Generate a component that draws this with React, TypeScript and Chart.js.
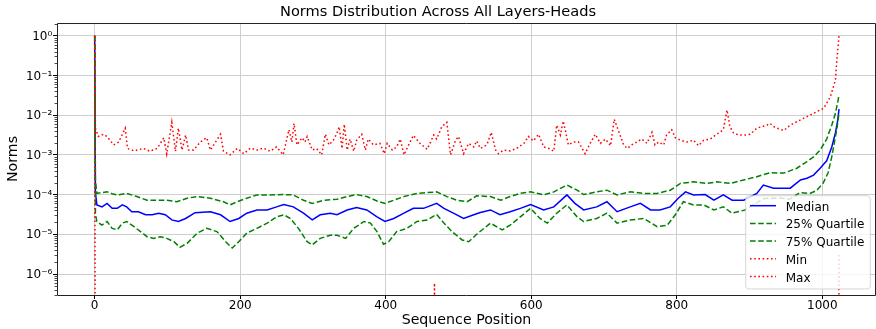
import React, { useEffect, useRef } from 'react';
import { Chart, registerables } from 'chart.js';

Chart.register(...registerables);

const FONT = "'DejaVu Sans', sans-serif";

const TITLE = 'Norms Distribution Across All Layers-Heads';
const X_LABEL = 'Sequence Position';
const Y_LABEL = 'Norms';
const X_TICKS = [0, 200, 400, 600, 800, 1000];
const Y_TICKS = [1e-6, 1e-5, 1e-4, 1e-3, 1e-2, 1e-1, 1];
const SERIES_NAMES = ['Median', '25% Quartile', '75% Quartile', 'Min', 'Max'];

// Median
const MEDIAN_POS = [0, 1, 3, 10, 17, 24, 31, 38, 44, 51, 60, 70, 79, 88, 97, 106, 115, 125, 138, 159, 173, 186, 198, 209, 223, 237, 250, 260, 273, 287, 299, 310, 324, 333, 347, 360, 374, 388, 399, 411, 425, 438, 452, 470, 480, 493, 507, 521, 530, 544, 557, 571, 585, 599, 617, 631, 649, 660, 672, 690, 704, 718, 736, 750, 764, 777, 791, 802, 812, 823, 839, 851, 864, 876, 892, 910, 919, 933, 947, 956, 970, 979, 988, 997, 1006, 1013, 1018, 1021, 1023];
const MEDIAN = [1, 1.12e-4, 5.5e-5, 4.9e-5, 6.0e-5, 4.5e-5, 4.5e-5, 5.5e-5, 4.9e-5, 3.7e-5, 3.7e-5, 3.1e-5, 3.1e-5, 3.4e-5, 3.1e-5, 2.3e-5, 2.1e-5, 2.5e-5, 3.5e-5, 3.7e-5, 3.1e-5, 2.1e-5, 2.5e-5, 3.4e-5, 4.1e-5, 4.1e-5, 4.9e-5, 5.6e-5, 4.9e-5, 3.4e-5, 2.3e-5, 3.1e-5, 3.4e-5, 3.1e-5, 4.1e-5, 4.7e-5, 4.1e-5, 2.75e-5, 2.1e-5, 2.5e-5, 3.4e-5, 4.5e-5, 4.5e-5, 6.0e-5, 4.5e-5, 3.4e-5, 2.5e-5, 3.1e-5, 3.55e-5, 4.1e-5, 3.1e-5, 3.7e-5, 4.5e-5, 5.6e-5, 4.1e-5, 4.9e-5, 9.8e-5, 6.0e-5, 4.1e-5, 4.9e-5, 6.6e-5, 3.7e-5, 4.9e-5, 6.0e-5, 4.1e-5, 4.1e-5, 4.9e-5, 8.1e-5, 1.17e-4, 9.8e-5, 1.0e-4, 7.2e-5, 9.8e-5, 7.2e-5, 7.2e-5, 1.07e-4, 1.74e-4, 1.45e-4, 1.45e-4, 1.45e-4, 2.34e-4, 2.57e-4, 3.1e-4, 4.6e-4, 7.1e-4, 1.58e-3, 3.55e-3, 7.1e-3, 1.41e-2];

// 25% quartile (lower green)
const Q25_POS = [0, 1, 3, 10, 17, 24, 31, 38, 44, 54, 63, 72, 81, 90, 99, 109, 117, 127, 136, 141, 154, 168, 180, 189, 198, 209, 223, 237, 250, 260, 269, 280, 292, 299, 310, 324, 333, 345, 356, 370, 379, 388, 397, 404, 415, 429, 443, 457, 470, 480, 491, 505, 514, 525, 544, 560, 571, 585, 599, 612, 622, 635, 649, 663, 672, 690, 704, 718, 736, 755, 773, 787, 798, 809, 823, 837, 851, 864, 876, 894, 910, 919, 940, 955, 969, 983, 992, 1001, 1008, 1013, 1017, 1020, 1023];
const Q25 = [1, 3.16e-5, 2.1e-5, 1.7e-5, 2.1e-5, 1.41e-5, 1.29e-5, 1.91e-5, 2.1e-5, 1.55e-5, 1.17e-5, 8.7e-6, 7.9e-6, 8.7e-6, 7.9e-6, 6.5e-6, 4.7e-6, 5.9e-6, 8.7e-6, 1.07e-5, 1.41e-5, 1.17e-5, 6.5e-6, 4.5e-6, 6.5e-6, 1.07e-5, 1.41e-5, 1.91e-5, 2.75e-5, 3.1e-5, 2.5e-5, 1.41e-5, 6.5e-6, 5.4e-6, 7.9e-6, 9.5e-6, 9.5e-6, 7.9e-6, 1.41e-5, 2.1e-5, 1.91e-5, 1.17e-5, 5.6e-6, 6.5e-6, 1.17e-5, 1.41e-5, 2.1e-5, 2.3e-5, 3.16e-5, 1.91e-5, 1.17e-5, 7.2e-6, 6.5e-6, 1.0e-5, 1.91e-5, 1.29e-5, 1.7e-5, 2.75e-5, 4.5e-5, 2.5e-5, 1.91e-5, 3.4e-5, 5.5e-5, 2.75e-5, 2.1e-5, 2.5e-5, 3.4e-5, 1.91e-5, 2.3e-5, 2.5e-5, 1.55e-5, 1.7e-5, 3.1e-5, 6.6e-5, 5.5e-5, 5.5e-5, 4.1e-5, 4.9e-5, 3.4e-5, 4.1e-5, 6.3e-5, 7.9e-5, 8.3e-5, 7.6e-5, 1.12e-4, 1.07e-4, 1.26e-4, 1.91e-4, 3.55e-4, 8.9e-4, 2.24e-3, 4.5e-3, 1.12e-2];

// 75% quartile (upper green)
const Q75_POS = [0, 1, 3, 10, 17, 24, 31, 44, 58, 72, 86, 99, 113, 127, 141, 159, 177, 186, 196, 209, 223, 241, 260, 273, 287, 299, 315, 333, 347, 360, 374, 388, 399, 411, 425, 443, 457, 470, 484, 498, 512, 525, 544, 558, 571, 585, 599, 617, 631, 649, 663, 672, 690, 704, 718, 736, 755, 773, 791, 805, 823, 842, 855, 874, 892, 910, 928, 947, 965, 979, 988, 997, 1006, 1013, 1018, 1021, 1023];
const Q75 = [1, 2.24e-4, 1.07e-4, 1.12e-4, 1.17e-4, 1.05e-4, 9.8e-5, 1.07e-4, 8.9e-5, 7.2e-5, 7.2e-5, 7.2e-5, 6.6e-5, 8.1e-5, 8.9e-5, 8.1e-5, 6.6e-5, 5.5e-5, 6.6e-5, 8.1e-5, 9.8e-5, 9.8e-5, 1.0e-4, 9.8e-5, 7.2e-5, 6.0e-5, 7.2e-5, 7.6e-5, 8.9e-5, 1.0e-4, 8.9e-5, 6.9e-5, 6.0e-5, 7.2e-5, 8.9e-5, 1.07e-4, 1.12e-4, 1.17e-4, 8.9e-5, 7.2e-5, 6.6e-5, 9.3e-5, 8.9e-5, 7.2e-5, 8.9e-5, 1.07e-4, 1.17e-4, 9.8e-5, 1.17e-4, 1.74e-4, 1.29e-4, 1.0e-4, 1.17e-4, 1.29e-4, 9.8e-5, 1.17e-4, 1.07e-4, 1.07e-4, 1.29e-4, 1.91e-4, 2.09e-4, 1.91e-4, 2.09e-4, 1.91e-4, 2.34e-4, 2.82e-4, 3.55e-4, 3.47e-4, 4.6e-4, 6.8e-4, 8.9e-4, 1.32e-3, 2.5e-3, 5.6e-3, 1.12e-2, 2.0e-2, 3.24e-2];

// Min (zero almost everywhere)
const MIN_POS = [0, 1, 466, 467, 468, 1022, 1023];
const MIN = [1, 0, 0, 5.9e-7, 0, 0, 3e-6];

// Max (upper red)
const MAX_POS = [0, 1, 5, 12, 17, 26, 33, 42, 45, 54, 67, 76, 86, 95, 99, 106, 111, 115, 120, 125, 129, 136, 145, 154, 159, 166, 173, 177, 186, 196, 205, 214, 223, 232, 241, 250, 259, 267, 271, 274, 278, 285, 289, 292, 299, 305, 312, 317, 322, 328, 333, 336, 340, 343, 347, 351, 356, 360, 367, 372, 376, 383, 392, 398, 402, 409, 415, 420, 425, 431, 438, 447, 457, 466, 470, 477, 484, 489, 496, 500, 507, 514, 521, 525, 530, 539, 545, 551, 555, 562, 571, 580, 590, 596, 603, 610, 617, 624, 631, 635, 640, 644, 647, 651, 658, 665, 674, 681, 688, 695, 702, 709, 714, 718, 722, 727, 732, 738, 745, 752, 759, 766, 770, 775, 782, 786, 793, 798, 805, 814, 823, 830, 837, 846, 855, 864, 869, 873, 878, 885, 894, 901, 910, 924, 928, 935, 947, 956, 970, 983, 997, 1002, 1011, 1018, 1020, 1023];
const MAX = [1, 4.7e-3, 2.9e-3, 3.3e-3, 2.9e-3, 1.78e-3, 2.1e-3, 4.7e-3, 1.45e-3, 1.26e-3, 1.45e-3, 1.23e-3, 1.45e-3, 2.7e-3, 1.05e-3, 6.6e-3, 1.23e-3, 4.7e-3, 1.32e-3, 3.16e-3, 1.32e-3, 1.32e-3, 2.1e-3, 2.7e-3, 1.32e-3, 2.1e-3, 3.3e-3, 1.23e-3, 1.0e-3, 1.45e-3, 1.07e-3, 1.48e-3, 1.32e-3, 1.48e-3, 1.23e-3, 1.58e-3, 1.0e-3, 4.3e-3, 2.1e-3, 6.2e-3, 1.78e-3, 2.7e-3, 2.1e-3, 2.9e-3, 1.32e-3, 1.45e-3, 1.0e-3, 3.3e-3, 1.78e-3, 2.34e-3, 3.55e-3, 5.1e-3, 1.45e-3, 5.9e-3, 1.32e-3, 2.5e-3, 1.23e-3, 2.34e-3, 3.3e-3, 1.32e-3, 2.5e-3, 1.78e-3, 1.95e-3, 1.07e-3, 1.95e-3, 1.32e-3, 1.58e-3, 2.5e-3, 1.0e-3, 1.7e-3, 3.1e-3, 1.95e-3, 1.38e-3, 3.16e-3, 2.5e-3, 5.1e-3, 6.6e-3, 1.0e-3, 2.34e-3, 2.9e-3, 1.07e-3, 1.95e-3, 1.58e-3, 2.24e-3, 1.45e-3, 1.78e-3, 3.7e-3, 1.32e-3, 1.07e-3, 1.32e-3, 1.26e-3, 1.45e-3, 1.95e-3, 2.9e-3, 2.24e-3, 3.3e-3, 1.58e-3, 1.45e-3, 1.23e-3, 5.6e-3, 3.16e-3, 7.1e-3, 4.0e-3, 1.78e-3, 2.1e-3, 2.1e-3, 1.07e-3, 1.95e-3, 3.3e-3, 1.95e-3, 2.5e-3, 1.7e-3, 7.9e-3, 5.0e-3, 3.16e-3, 1.78e-3, 1.45e-3, 1.78e-3, 2.1e-3, 2.5e-3, 1.95e-3, 3.7e-3, 1.78e-3, 2.1e-3, 1.78e-3, 3.16e-3, 4.3e-3, 2.7e-3, 2.34e-3, 2.1e-3, 2.34e-3, 1.7e-3, 2.34e-3, 2.5e-3, 3.3e-3, 4.3e-3, 1.35e-2, 5.1e-3, 3.55e-3, 3.16e-3, 3.16e-3, 3.3e-3, 4.7e-3, 5.6e-3, 6.2e-3, 4.9e-3, 4.1e-3, 5.6e-3, 7.6e-3, 1.0e-2, 1.35e-2, 1.48e-2, 2.9e-2, 7.6e-2, 0.245, 1];

// A zero cannot sit on a log axis; like matplotlib, it is sent below the axis and clipped.
const ZERO_ON_LOG = 1e-12;

const toPoints = (xs: number[], ys: number[]) =>
  xs.map((x, i) => ({ x, y: ys[i] > 0 ? ys[i] : ZERO_ON_LOG }));

const SUP: Record<string, string> = {
  '-': '\u207B', '0': '\u2070', '1': '\u00B9', '2': '\u00B2', '3': '\u00B3',
  '4': '\u2074', '5': '\u2075', '6': '\u2076', '7': '\u2077', '8': '\u2078', '9': '\u2079',
};
const powLabel = (v: number) =>
  '10' + String(Math.round(Math.log10(v))).split('').map((c) => SUP[c] || c).join('');

const framePlugin = {
  id: 'mplFrame',
  afterDraw(chart: any) {
    const { ctx, chartArea: a, scales } = chart;
    const ys = scales.y;
    ctx.save();
    // minor log ticks on the y axis
    ctx.strokeStyle = '#000';
    ctx.lineWidth = 0.7;
    for (let e = -7; e <= 0; e++) {
      for (let m = 2; m <= 9; m++) {
        const v = m * Math.pow(10, e);
        if (v < ys.min || v > ys.max) continue;
        const y = Math.round(ys.getPixelForValue(v)) + 0.5;
        ctx.beginPath();
        ctx.moveTo(a.left - 2.5, y);
        ctx.lineTo(a.left, y);
        ctx.stroke();
      }
    }
    // spines
    ctx.lineWidth = 1;
    ctx.strokeStyle = '#222';
    ctx.beginPath();
    ctx.moveTo(a.left + 0.5, a.top + 0.5);
    ctx.lineTo(a.left + 0.5, a.bottom + 0.5);
    ctx.lineTo(a.right - 0.5, a.bottom + 0.5);
    ctx.lineTo(a.right - 0.5, a.top + 0.5);
    ctx.closePath();
    ctx.stroke();

    // legend (lower right, inside the axes)
    const W = 124.6, H = 93.3, R = 3;
    const bx = a.right - 5.7 - W;
    const by = a.bottom - 6 - H;
    ctx.beginPath();
    ctx.moveTo(bx + R, by);
    ctx.lineTo(bx + W - R, by);
    ctx.arcTo(bx + W, by, bx + W, by + R, R);
    ctx.lineTo(bx + W, by + H - R);
    ctx.arcTo(bx + W, by + H, bx + W - R, by + H, R);
    ctx.lineTo(bx + R, by + H);
    ctx.arcTo(bx, by + H, bx, by + H - R, R);
    ctx.lineTo(bx, by + R);
    ctx.arcTo(bx, by, bx + R, by, R);
    ctx.closePath();
    ctx.fillStyle = 'rgba(255,255,255,0.8)';
    ctx.fill();
    ctx.strokeStyle = 'rgba(204,204,204,0.8)';
    ctx.lineWidth = 1;
    ctx.stroke();

    ctx.font = `12px ${FONT}`;
    ctx.textBaseline = 'alphabetic';
    ctx.textAlign = 'left';
    chart.data.datasets.forEach((ds: any, i: number) => {
      const base = by + 15 + i * 17.7;
      const ly = base - 5;
      ctx.strokeStyle = ds.borderColor;
      ctx.lineWidth = ds.borderWidth;
      ctx.setLineDash(ds.borderDash || []);
      ctx.beginPath();
      ctx.moveTo(bx + 4.3, ly);
      ctx.lineTo(bx + 30.3, ly);
      ctx.stroke();
      ctx.setLineDash([]);
      ctx.fillStyle = '#000';
      ctx.fillText(ds.label, bx + 40, base);
    });
    ctx.restore();
  },
};

export default function App() {
  const ref = useRef<HTMLCanvasElement>(null);

  useEffect(() => {
    const GREEN_DASH = [5.6, 2.6];
    const RED_DOT = [1.6, 2.6];
    const chart = new Chart(ref.current as HTMLCanvasElement, {
      type: 'line',
      data: {
        datasets: [
          { label: SERIES_NAMES[0], data: toPoints(MEDIAN_POS, MEDIAN), borderColor: '#0000ff', borderWidth: 1.5, borderDash: [], order: 5 },
          { label: SERIES_NAMES[1], data: toPoints(Q25_POS, Q25), borderColor: '#008000', borderWidth: 1.5, borderDash: GREEN_DASH, order: 4 },
          { label: SERIES_NAMES[2], data: toPoints(Q75_POS, Q75), borderColor: '#008000', borderWidth: 1.5, borderDash: GREEN_DASH, order: 3 },
          { label: SERIES_NAMES[3], data: toPoints(MIN_POS, MIN), borderColor: '#ff0000', borderWidth: 1.5, borderDash: RED_DOT, order: 2 },
          { label: SERIES_NAMES[4], data: toPoints(MAX_POS, MAX), borderColor: '#ff0000', borderWidth: 1.5, borderDash: RED_DOT, order: 1 },
        ] as any,
      },
      options: {
        responsive: false,
        animation: false,
        devicePixelRatio: 1,
        layout: { padding: 0 },
        elements: { point: { radius: 0, hoverRadius: 0 }, line: { tension: 0, fill: false } },
        plugins: {
          legend: { display: false },
          tooltip: { enabled: false },
          title: {
            display: true,
            text: TITLE,
            color: '#000',
            font: { family: FONT, size: 14.6, weight: 'normal' as any },
            padding: { top: 3.9, bottom: 1.6 },
          },
        },
        scales: {
          x: {
            type: 'linear',
            min: -51.8,
            max: 1073.8,
            afterBuildTicks: (s: any) => { s.ticks = X_TICKS.map((value) => ({ value })); },
            afterFit: (s: any) => { s.height = 34; },
            ticks: {
              autoSkip: false,
              maxRotation: 0,
              padding: 0,
              color: '#000',
              font: { family: FONT, size: 12 },
              callback: (v: any) => String(v),
            },
            grid: { color: '#cfcfcf', lineWidth: 1, tickColor: '#000', tickLength: 4, tickWidth: 1 },
            border: { display: false },
            title: {
              display: true,
              text: X_LABEL,
              color: '#000',
              font: { family: FONT, size: 14.2 },
              padding: { top: 0, bottom: 0 },
            },
          },
          y: {
            type: 'logarithmic',
            min: 2.96e-7,
            max: 2.087,
            afterBuildTicks: (s: any) => { s.ticks = Y_TICKS.map((value) => ({ value })); },
            afterFit: (s: any) => { s.width = 57; },
            ticks: {
              autoSkip: false,
              padding: 0.7,
              labelOffset: 1,
              color: '#000',
              font: { family: FONT, size: 12 },
              callback: (v: any) => powLabel(Number(v)),
            },
            grid: { color: '#cfcfcf', lineWidth: 1, tickColor: '#000', tickLength: 4, tickWidth: 1 },
            border: { display: false },
            title: {
              display: true,
              text: Y_LABEL,
              color: '#000',
              font: { family: FONT, size: 14.2 },
              padding: { top: 4.9, bottom: 0 },
            },
          },
        },
      } as any,
      plugins: [framePlugin],
    });
    return () => chart.destroy();
  }, []);

  return (
    <div style={{ position: 'fixed', left: 0, top: 0, width: 876, height: 329, background: '#fff' }}>
      <canvas ref={ref} width={876} height={329} style={{ display: 'block', width: 876, height: 329 }} />
    </div>
  );
}
